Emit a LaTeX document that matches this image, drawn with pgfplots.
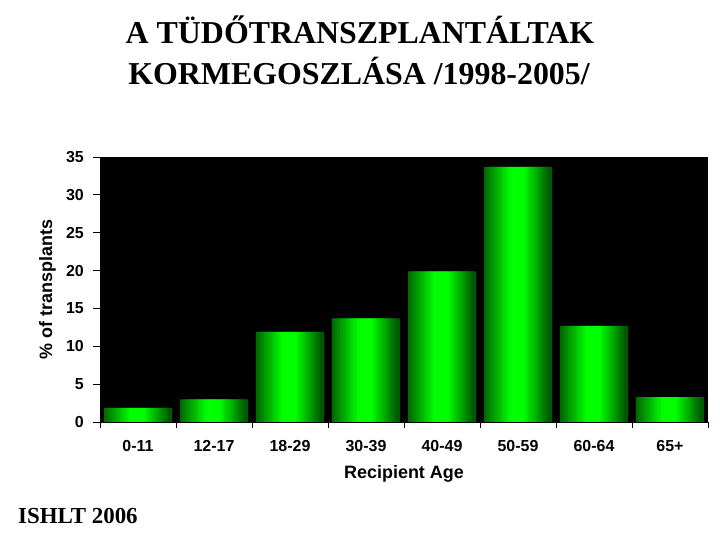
\documentclass[border=0pt]{standalone}
\usepackage{pgfplots}
\pgfplotsset{compat=1.18}
\usepackage{pgfplotstable}
\usepackage{fontspec}
\setmainfont{Liberation Serif}
\newfontfamily\arial[BoldFont={Liberation Sans Bold}]{Liberation Sans}
\pgfplotstableread{
x y
0 1.85
1 3.0
2 11.9
3 13.7
4 19.9
5 33.7
6 12.7
7 3.3
}\bardata
\begin{document}
\begin{tikzpicture}[x=1bp,y=1bp]
\useasboundingbox (0,0) rectangle (720,540);
\node[anchor=base, font=\bfseries\fontsize{32}{36}\selectfont] at (360,496) {A TÜDŐTRANSZPLANTÁLTAK};
\node[anchor=base, font=\bfseries\fontsize{32}{36}\selectfont] at (359,455) {KORMEGOSZLÁSA /1998-2005/};
\node[anchor=base west, inner sep=0pt, font=\bfseries\fontsize{23}{26}\selectfont] at (18,16) {ISHLT 2006};
\begin{axis}[
  at={(100bp,118bp)}, anchor=south west,
  scale only axis, width=608bp, height=265bp,
  xmin=-0.5, xmax=7.5, ymin=0, ymax=35,
  axis background/.style={fill=black},
  axis line style={black},
  axis x line*=bottom, axis y line*=left,
  xtick={0,...,7},
  xticklabels={0-11,12-17,18-29,30-39,40-49,50-59,60-64,65+},
  minor xtick={-0.5,0.5,...,7.5},
  major x tick style={draw=none},
  minor x tick style={black, line width=0.8pt},
  minor tick length=6bp,
  ytick={0,5,...,35},
  major tick length=7bp,
  tick align=outside,
  y tick style={black, line width=0.8pt},
  /pgf/number format/assume math mode=true,
  yticklabel style={font=\arial\bfseries\fontsize{16}{18}\selectfont, anchor=east, inner sep=0pt, xshift=-9bp},
  xticklabel style={font=\arial\bfseries\fontsize{16}{18}\selectfont, anchor=base, yshift=-23bp},
  xlabel={Recipient Age},
  ylabel={\% of transplants},
  label style={font=\arial\bfseries\fontsize{18}{20}\selectfont},
  xlabel style={at={(axis description cs:0.5,0)}, anchor=base, yshift=-57bp},
  ylabel style={at={(axis description cs:0,0.5)}, anchor=base, rotate=0, yshift=48bp},
  clip=false,
]
\foreach \i in {0,...,23}{
  \pgfmathsetmacro\u{(\i+0.5)/24}
  \pgfmathtruncatemacro\g{ifthenelse(\u<0.4, 100+155*\u/0.4, ifthenelse(\u<0.6, 255, 255-175*(\u-0.6)/0.4))}
  \pgfmathsetmacro\s{-0.42+\i*0.84/23}
  \edef\temp{\noexpand\addplot[ybar, forget plot, draw=none, fill={rgb,255:red,0;green,\g;blue,0}, bar width=0.06, bar shift=\s] table[x=x,y=y] {\noexpand\bardata};}
  \temp
}
\end{axis}
\end{tikzpicture}
\end{document}
